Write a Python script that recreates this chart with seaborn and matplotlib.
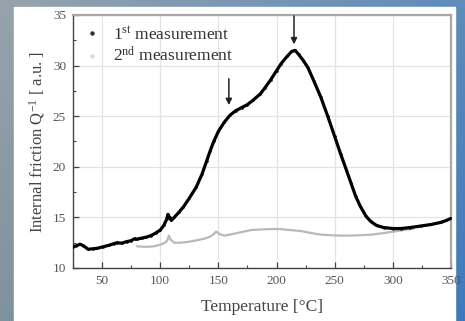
import numpy as np
import pandas as pd
import matplotlib
matplotlib.use("Agg")
import matplotlib.pyplot as plt
from matplotlib.patches import Rectangle
from matplotlib.lines import Line2D
from matplotlib.ticker import MultipleLocator
import seaborn as sns

# ---- data ----
temp_1st = [25, 28, 31, 34, 38, 42, 46, 51, 56, 60, 63, 67, 71, 75, 78, 80, 84, 88, 92, 96,
            100, 103, 105.5, 106.6, 108, 109.5, 112, 116, 120, 125, 131, 136, 140, 143, 146,
            150, 155, 160, 165, 170, 175, 180, 186, 190, 195, 200, 204, 209, 213, 216, 219,
            223, 227, 232, 238, 244, 250, 255, 260, 264, 268, 272, 277, 281, 286, 292, 300,
            307, 315, 324, 333, 341, 346, 350]
q_1st = [12.1, 12.2, 12.35, 12.2, 11.85, 11.9, 11.95, 12.1, 12.25, 12.4, 12.5, 12.45, 12.6,
         12.7, 12.9, 12.85, 12.95, 13.05, 13.2, 13.45, 13.75, 14.2, 14.8, 15.3, 15.0, 14.7,
         15.0, 15.5, 16.05, 16.9, 18.0, 19.3, 20.6, 21.6, 22.5, 23.5, 24.4, 25.1, 25.55,
         25.85, 26.15, 26.6, 27.2, 27.8, 28.6, 29.5, 30.2, 30.9, 31.4, 31.5, 31.1, 30.5, 29.8,
         28.5, 26.9, 25.0, 23.0, 21.3, 19.7, 18.4, 17.1, 16.1, 15.1, 14.6, 14.2, 14.0, 13.9,
         13.9, 14.0, 14.15, 14.3, 14.5, 14.7, 14.9]

temp_2nd = [80, 85, 90, 95, 100, 104, 106, 107.5, 109, 112, 118, 125, 132, 138, 143, 146, 148,
            151, 155, 160, 166, 172, 178, 185, 195, 203, 212, 221, 230, 238, 245, 255, 265,
            273, 282, 292, 301, 310, 318]
q_2nd = [12.15, 12.1, 12.1, 12.15, 12.3, 12.5, 12.7, 13.2, 12.8, 12.5, 12.5, 12.6, 12.75,
         12.9, 13.1, 13.35, 13.6, 13.35, 13.2, 13.3, 13.45, 13.6, 13.75, 13.8, 13.85, 13.85,
         13.75, 13.65, 13.45, 13.3, 13.25, 13.2, 13.2, 13.25, 13.3, 13.45, 13.6, 13.75, 13.9]

series_labels = ["1$^{\\mathrm{st}}$ measurement", "2$^{\\mathrm{nd}}$ measurement"]
arrow_x = [159, 215]
arrow_tail_y = [28.7, 34.9]
arrow_head_y = [26.1, 32.1]

x_ticks = [50, 100, 150, 200, 250, 300, 350]
y_ticks = [10, 15, 20, 25, 30, 35]

# ---- styling ----
sns.set_theme(style="ticks")
plt.rcParams["font.family"] = ["Liberation Serif", "DejaVu Serif"]
plt.rcParams["mathtext.fontset"] = "custom"
plt.rcParams["mathtext.rm"] = "Liberation Serif"
plt.rcParams["mathtext.it"] = "Liberation Serif:italic"

W, H = 465, 321
fig = plt.figure(figsize=(W / 100, H / 100), dpi=100)

# background gradient (slide-like frame)
bg = fig.add_axes([0, 0, 1, 1], zorder=-10)
tl = np.array([150, 163, 172]) / 255
tr = np.array([95, 140, 188]) / 255
bl = np.array([128, 146, 158]) / 255
br = np.array([62, 122, 186]) / 255
u = np.linspace(0, 1, 64)[None, :, None]
v = np.linspace(0, 1, 48)[:, None, None]
img = (1 - v) * ((1 - u) * tl + u * tr) + v * ((1 - u) * bl + u * br)
bg.imshow(img, extent=[0, 1, 0, 1], aspect="auto", origin="upper")
bg.add_patch(Rectangle((14 / W, 0), (455 - 14) / W, 1 - 7 / H, color="white"))
bg.set_xlim(0, 1)
bg.set_ylim(0, 1)
bg.axis("off")

ax = fig.add_axes([73 / W, 1 - 268 / H, (451 - 73) / W, (268 - 15) / H])
ax.set_facecolor("white")

df1 = pd.DataFrame({"T": temp_1st, "Q": q_1st})
df2 = pd.DataFrame({"T": temp_2nd, "Q": q_2nd})
sns.lineplot(data=df2, x="T", y="Q", ax=ax, color="#b9b9b9", linewidth=1.6, sort=False, zorder=2)
sns.lineplot(data=df1, x="T", y="Q", ax=ax, color="black", linewidth=2.3, sort=False, zorder=3,
             marker="o", markersize=1.8, markeredgewidth=0)

for xa, yt, yh in zip(arrow_x, arrow_tail_y, arrow_head_y):
    ax.annotate("", xy=(xa, yh), xytext=(xa, yt),
                arrowprops=dict(arrowstyle="-|>", color="#222222", lw=1.1,
                                mutation_scale=9, shrinkA=0, shrinkB=0))

ax.set_xlim(25, 350)
ax.set_ylim(10, 35)
ax.set_xticks(x_ticks)
ax.set_yticks(y_ticks)
ax.xaxis.set_minor_locator(MultipleLocator(25))
ax.yaxis.set_minor_locator(MultipleLocator(2.5))
ax.grid(True, which="major", color="#e3e3e3", linewidth=0.9)
ax.set_axisbelow(True)
ax.tick_params(which="both", direction="in", colors="#444444", labelcolor="#555555",
               labelsize=9.5)
ax.tick_params(which="major", length=4, width=0.9, pad=5)
ax.tick_params(which="minor", length=2.5, width=0.8)
for side in ["left", "bottom"]:
    ax.spines[side].set_color("#444444")
    ax.spines[side].set_linewidth(1.0)
for side in ["top", "right"]:
    ax.spines[side].set_visible(True)
    ax.spines[side].set_color("#a8a8a8")
    ax.spines[side].set_linewidth(1.6)

ax.set_xlabel("Temperature [°C]", fontsize=12.5, color="#444444", labelpad=9)
ax.set_ylabel("Internal friction Q$^{-1}$ [ a.u. ]", fontsize=12, color="#444444", labelpad=4)

handles = [Line2D([], [], linestyle="none", marker="o", markersize=2.2, color="#333333"),
           Line2D([], [], linestyle="none", marker="o", markersize=2.2, color="#dddddd")]
ax.legend(handles, series_labels, loc="upper left", frameon=False, fontsize=12.5,
          labelspacing=0.18, handlelength=1.0, handletextpad=0.7,
          bbox_to_anchor=(-0.005, 1.005), borderaxespad=0.3, labelcolor="#333333")

fig.savefig("out.png", dpi=100)
